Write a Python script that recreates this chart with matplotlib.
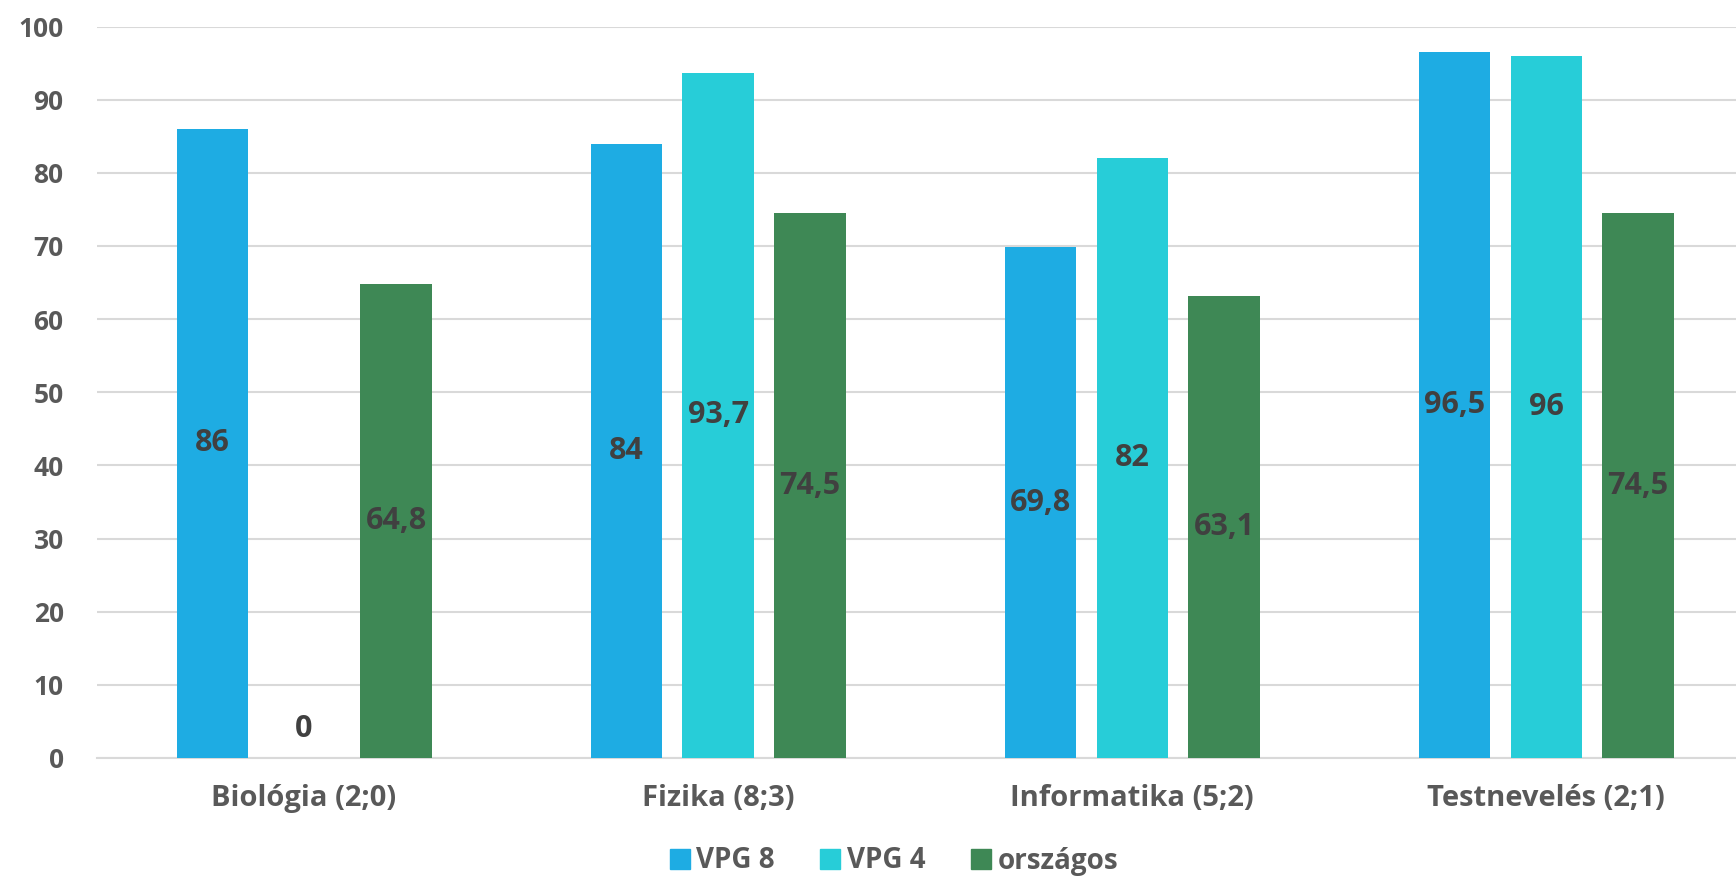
import numpy as np
import matplotlib
matplotlib.use('Agg')
import matplotlib.pyplot as plt
from matplotlib.lines import Line2D

plt.rcParams['font.family'] = ['Open Sans', 'DejaVu Sans']

categories = ["Biológia (2;0)", "Fizika (8;3)", "Informatika (5;2)", "Testnevelés (2;1)"]
series_names = ["VPG 8", "VPG 4", "országos"]
vpg8 = [86, 84, 69.8, 96.5]
vpg4 = [0, 93.7, 82, 96]
orszagos = [64.8, 74.5, 63.1, 74.5]
colors = ["#1EACE3", "#27CDD8", "#3E8855"]

TXT = "#595959"
LBL = "#404040"

fig = plt.figure(figsize=(17.36, 8.77), dpi=100)
ax = fig.add_axes([0.0559, 0.1357, 0.954, 0.834])

x = np.arange(len(categories))
width = 0.172
step = 0.222
for i, (vals, c) in enumerate(zip([vpg8, vpg4, orszagos], colors)):
    xs = x + (i - 1) * step
    ax.bar(xs, vals, width=width, color=c, zorder=3)
    for xx, v in zip(xs, vals):
        s = f"{v:g}".replace(".", ",")
        ax.text(xx, max(v / 2, 4.0), s, ha='center', va='center',
                fontsize=22, fontweight='bold', color=LBL, zorder=4)

ax.set_xlim(-0.5, len(categories) - 0.5)
ax.set_ylim(0, 100)
ax.set_yticks(np.arange(0, 101, 10))
ax.grid(axis='y', color='#D9D9D9', lw=1.5, zorder=0)
for sp in ['top', 'right', 'left']:
    ax.spines[sp].set_visible(False)
ax.spines['bottom'].set_color('#D9D9D9')
ax.spines['bottom'].set_linewidth(1.5)
ax.set_xticks(x)
ax.set_xticklabels(categories)
ax.tick_params(axis='both', length=0, colors=TXT)
ax.tick_params(axis='y', pad=24, labelsize=19)
ax.tick_params(axis='x', pad=19, labelsize=21)
for lab in ax.get_xticklabels() + ax.get_yticklabels():
    lab.set_fontweight('bold')

handles = [Line2D([0], [0], marker='s', color='none', markerfacecolor=c,
                  markeredgecolor=c, markersize=14) for c in colors]
leg = fig.legend(handles, series_names, loc='center', bbox_to_anchor=(892 / 1736, 1 - 861 / 877),
                 ncol=3, frameon=False, fontsize=20, handletextpad=0.1, columnspacing=1.5,
                 handlelength=1.0)
for t in leg.get_texts():
    t.set_color(TXT)
    t.set_fontweight('bold')

fig.savefig("out.png", dpi=100)
